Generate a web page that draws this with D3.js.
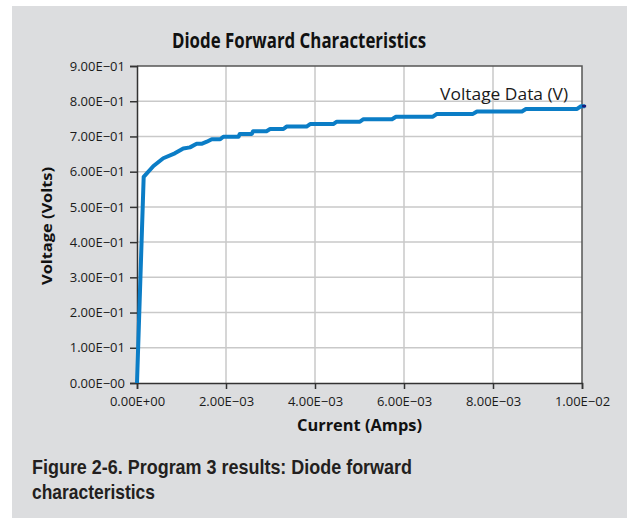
<!DOCTYPE html>
<html>
<head>
<meta charset="utf-8">
<script src="https://cdn.jsdelivr.net/npm/d3@7"></script>
<style>
  body { margin: 0; background: #fff; }
  svg { display: block; }
</style>
</head>
<body>
<div id="chart"></div>
<script>
// current (A) and diode voltage (V)
const current = [0, 0.00015, 0.00037, 0.00059, 0.00085, 0.00104, 0.00119, 0.00134, 0.00145,
  0.00157, 0.00168, 0.00187, 0.00194, 0.00228, 0.00231, 0.00258, 0.00261, 0.00291, 0.00299,
  0.00329, 0.00336, 0.00381, 0.00389, 0.00441, 0.00449, 0.00501, 0.00509, 0.00573, 0.00582,
  0.00665, 0.00674, 0.00755, 0.00764, 0.00865, 0.00874, 0.00989, 0.00998, 0.01007]
const voltage = [0, 0.585, 0.616, 0.638, 0.652, 0.666, 0.669, 0.679, 0.679,
  0.685, 0.692, 0.692, 0.699, 0.699, 0.707, 0.707, 0.715, 0.715, 0.721,
  0.721, 0.728, 0.728, 0.735, 0.735, 0.742, 0.742, 0.749, 0.749, 0.756,
  0.756, 0.764, 0.764, 0.771, 0.771, 0.778, 0.778, 0.786, 0.786]

const xTicks = [0, 0.002, 0.004, 0.006, 0.008, 0.01]
const xTickLabels = ["0.00E+00", "2.00E\u221203", "4.00E\u221203", "6.00E\u221203", "8.00E\u221203", "1.00E\u221202"]
const yTicks = [0, 0.1, 0.2, 0.3, 0.4, 0.5, 0.6, 0.7, 0.8, 0.9]
const yTickLabels = ["0.00E\u221200", "1.00E\u221201", "2.00E\u221201", "3.00E\u221201", "4.00E\u221201",
  "5.00E\u221201", "6.00E\u221201", "7.00E\u221201", "8.00E\u221201", "9.00E\u221201"]

const data = current.map((c, i) => ({ i: c, v: voltage[i] }))

const W = 627, H = 519
const plot = { left: 137, right: 582, top: 66, bottom: 383 }

const svg = d3.select("#chart").append("svg")
  .attr("width", W).attr("height", H)
  .style("font-family", "'Open Sans', 'Noto Sans', sans-serif")

// grey page panel
svg.append("rect").attr("x", 12).attr("y", 6).attr("width", W - 12).attr("height", 512)
  .attr("fill", "#dcdddf")

const x = d3.scaleLinear().domain([0, 0.01]).range([plot.left, plot.right])
const y = d3.scaleLinear().domain([0, 0.9]).range([plot.bottom, plot.top])

// plot area
svg.append("rect")
  .attr("x", plot.left).attr("y", plot.top)
  .attr("width", plot.right - plot.left).attr("height", plot.bottom - plot.top)
  .attr("fill", "#fff")

// grid
const grid = svg.append("g").attr("stroke", "#c9c9c9").attr("stroke-width", 1.5)
grid.selectAll(".gx").data(xTicks.slice(1, -1)).enter().append("line")
  .attr("x1", d => x(d)).attr("x2", d => x(d)).attr("y1", plot.top).attr("y2", plot.bottom)
grid.selectAll(".gy").data(yTicks.slice(1, -1)).enter().append("line")
  .attr("y1", d => y(d)).attr("y2", d => y(d)).attr("x1", plot.left).attr("x2", plot.right)

// frame top/right
svg.append("path")
  .attr("d", `M${plot.left},${plot.top}H${plot.right}V${plot.bottom}`)
  .attr("fill", "none").attr("stroke", "#555").attr("stroke-width", 1.5)

// axes
const xAxis = d3.axisBottom(x).tickValues(xTicks).tickSize(6).tickPadding(8)
  .tickFormat((d, i) => xTickLabels[i])
const yAxis = d3.axisLeft(y).tickValues(yTicks).tickSize(7).tickPadding(5)
  .tickFormat((d, i) => yTickLabels[i])

const gx = svg.append("g").attr("transform", `translate(0,${plot.bottom})`).call(xAxis)
const gy = svg.append("g").attr("transform", `translate(${plot.left},0)`).call(yAxis)
;[gx, gy].forEach(g => {
  g.select(".domain").attr("stroke", "#333").attr("stroke-width", 1.5)
  g.selectAll(".tick line").attr("stroke", "#333").attr("stroke-width", 1.5)
  g.selectAll(".tick text").attr("fill", "#1a1a1a").style("font-size", "13px")
    .style("font-family", "'Open Sans', sans-serif")
})
gx.selectAll(".tick text").attr("dy", "0.71em")

// data line
svg.append("path").datum(data)
  .attr("fill", "none")
  .attr("stroke", "#0b7dc6")
  .attr("stroke-width", 4)
  .attr("stroke-linejoin", "round")
  .attr("d", d3.line().x(d => x(d.i)).y(d => y(d.v)))

// small dark key at series end
const last = data[data.length - 1]
svg.append("line")
  .attr("x1", x(last.i) - 3).attr("x2", x(last.i) + 1)
  .attr("y1", y(last.v)).attr("y2", y(last.v))
  .attr("stroke", "#1c1c7a").attr("stroke-width", 2.5)

svg.append("text")
  .attr("x", x(last.i) - 145).attr("y", y(last.v) - 6)
  .attr("textLength", 128).attr("lengthAdjust", "spacingAndGlyphs")
  .attr("fill", "#1a1a1a")
  .style("font-size", "17px")
  .text("Voltage Data (V)")

// titles
svg.append("text")
  .attr("x", 172).attr("y", 48)
  .attr("textLength", 254).attr("lengthAdjust", "spacingAndGlyphs")
  .style("font-size", "21.5px").style("font-weight", "bold")
  .attr("fill", "#111")
  .text("Diode Forward Characteristics")

svg.append("text")
  .attr("x", 297).attr("y", 431)
  .attr("textLength", 125).attr("lengthAdjust", "spacingAndGlyphs")
  .style("font-size", "16px").style("font-weight", "bold")
  .attr("fill", "#111")
  .text("Current (Amps)")

svg.append("text")
  .attr("transform", "translate(52,285) rotate(-90)")
  .attr("textLength", 118).attr("lengthAdjust", "spacingAndGlyphs")
  .style("font-size", "15px").style("font-weight", "bold")
  .attr("fill", "#111")
  .text("Voltage (Volts)")

// caption
const cap = svg.append("g").attr("fill", "#231f20")
  .style("font-family", "'Liberation Sans', Arial, sans-serif")
  .style("font-size", "20.5px").style("font-weight", "bold")
cap.append("text").attr("x", 32).attr("y", 474)
  .attr("textLength", 380).attr("lengthAdjust", "spacingAndGlyphs")
  .text("Figure 2-6. Program 3 results: Diode forward")
cap.append("text").attr("x", 32).attr("y", 498.5)
  .attr("textLength", 123).attr("lengthAdjust", "spacingAndGlyphs")
  .text("characteristics")
</script>
</body>
</html>
